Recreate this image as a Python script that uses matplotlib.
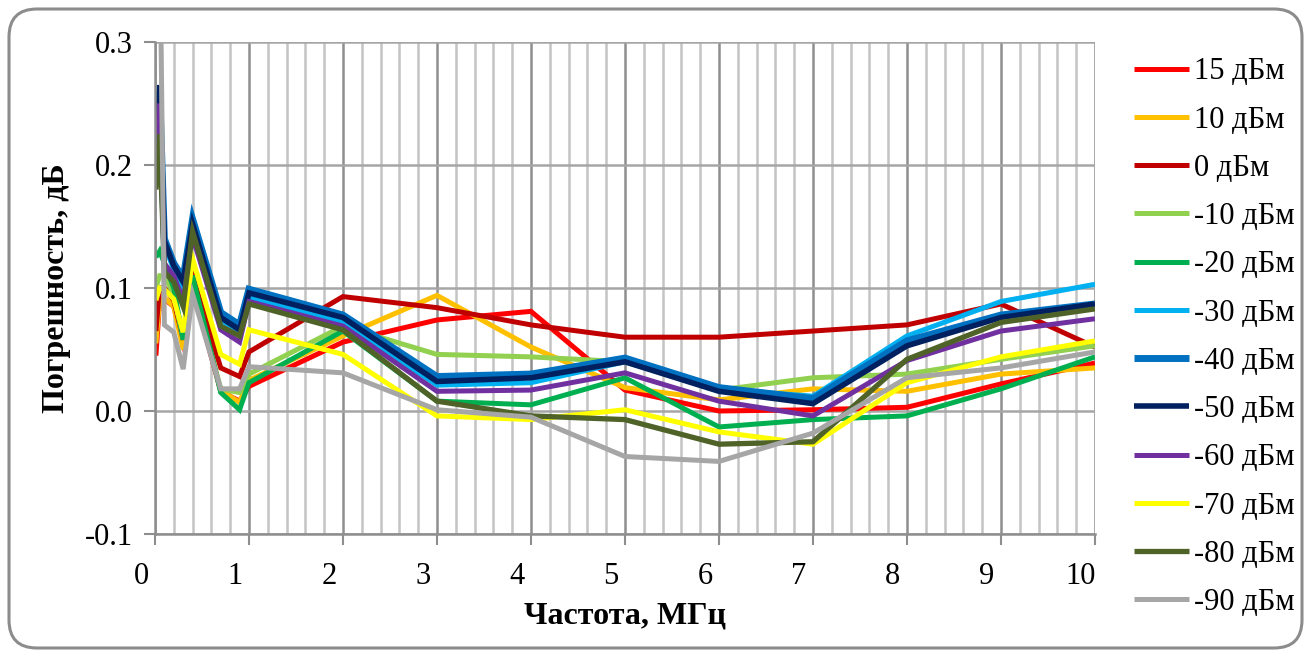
import matplotlib
matplotlib.use('Agg')
import matplotlib.pyplot as plt
from matplotlib.patches import FancyBboxPatch
from matplotlib.transforms import ScaledTranslation, IdentityTransform
from matplotlib.ticker import MultipleLocator

# Частоты, МГц
freq = [0.01, 0.05, 0.1, 0.2, 0.3, 0.4, 0.7, 0.9, 1, 2, 3, 4, 5, 6, 7, 8, 9, 10]

# Погрешность, дБ, для каждого уровня мощности
p15 = [0.045, 0.090, 0.091, 0.085, 0.055, 0.100, 0.016, 0.008, 0.020, 0.056, 0.074, 0.081, 0.017, 0.000, 0.001, 0.003, 0.022, 0.039]
p10 = [0.055, 0.090, 0.092, 0.085, 0.050, 0.105, 0.017, 0.007, 0.025, 0.061, 0.094, 0.052, 0.019, 0.009, 0.018, 0.016, 0.030, 0.035]
p0 = [0.065, 0.100, 0.100, 0.090, 0.058, 0.110, 0.035, 0.028, 0.048, 0.093, 0.084, 0.070, 0.060, 0.060, 0.065, 0.070, 0.087, 0.052]
m10 = [0.100, 0.110, 0.110, 0.095, 0.058, 0.100, 0.018, 0.015, 0.030, 0.069, 0.046, 0.044, 0.040, 0.017, 0.027, 0.030, 0.042, 0.053]
m20 = [0.125, 0.130, 0.120, 0.100, 0.058, 0.110, 0.015, 0.001, 0.023, 0.065, 0.008, 0.005, 0.027, -0.013, -0.007, -0.004, 0.018, 0.044]
m30 = [0.200, 0.250, 0.135, 0.115, 0.100, 0.148, 0.074, 0.064, 0.092, 0.072, 0.021, 0.023, 0.040, 0.018, 0.012, 0.061, 0.089, 0.103]
m40 = [0.200, 0.260, 0.140, 0.120, 0.108, 0.156, 0.080, 0.070, 0.099, 0.078, 0.028, 0.030, 0.043, 0.019, 0.010, 0.057, 0.078, 0.087]
m50 = [0.200, 0.265, 0.138, 0.118, 0.105, 0.152, 0.076, 0.066, 0.096, 0.076, 0.024, 0.027, 0.040, 0.016, 0.006, 0.053, 0.076, 0.087]
m60 = [0.200, 0.250, 0.120, 0.110, 0.090, 0.142, 0.066, 0.056, 0.089, 0.069, 0.016, 0.017, 0.031, 0.008, -0.004, 0.041, 0.065, 0.075]
m70 = [0.090, 0.100, 0.099, 0.091, 0.064, 0.124, 0.046, 0.038, 0.066, 0.046, -0.004, -0.007, 0.001, -0.017, -0.027, 0.023, 0.044, 0.057]
m80 = [0.180, 0.225, 0.113, 0.105, 0.085, 0.146, 0.069, 0.061, 0.087, 0.066, 0.008, -0.004, -0.007, -0.027, -0.025, 0.042, 0.072, 0.083]
m90 = [0.400, 0.400, 0.070, 0.064, 0.034, 0.095, 0.018, 0.018, 0.036, 0.031, 0.001, -0.005, -0.037, -0.041, -0.018, 0.027, 0.035, 0.048]

series = [p15, p10, p0, m10, m20, m30, m40, m50, m60, m70, m80, m90]
labels = ['15 дБм', '10 дБм', '0 дБм', '-10 дБм', '-20 дБм', '-30 дБм',
          '-40 дБм', '-50 дБм', '-60 дБм', '-70 дБм', '-80 дБм', '-90 дБм']
colors = ['#FF0000', '#FFC000', '#C00000', '#92D050', '#00B050', '#00B0F0',
          '#0070C0', '#002060', '#7030A0', '#FFFF00', '#4F6228', '#A6A6A6']
widths = [3.6, 3.6, 3.6, 3.6, 3.6, 3.6, 5.0, 4.0, 3.6, 3.6, 3.8, 3.6]

plt.rcParams['font.family'] = ['Liberation Serif', 'DejaVu Serif']

fig = plt.figure(figsize=(13.11, 6.56), dpi=100)
ax = fig.add_axes([0.1182, 0.1860, 0.7170, 0.7500])

# Рамка диаграммы
frame = FancyBboxPatch((9, 8), 1293, 639, boxstyle='round,pad=0,rounding_size=28',
                       transform=IdentityTransform(), facecolor='white',
                       edgecolor='#8C8C8C', linewidth=2.2, zorder=-10)
fig.patches.append(frame)

for y, c, lab, lw in zip(series, colors, labels, widths):
    ax.plot(freq, y, color=c, linewidth=lw, label=lab, solid_joinstyle='miter',
            solid_capstyle='butt')

ax.set_xlim(0, 10)
ax.set_ylim(-0.1, 0.3)
ax.xaxis.set_major_locator(MultipleLocator(1))
ax.xaxis.set_minor_locator(MultipleLocator(0.2))
ax.yaxis.set_major_locator(MultipleLocator(0.1))
ax.yaxis.set_major_formatter(matplotlib.ticker.FormatStrFormatter('%.1f'))

ax.grid(which='major', axis='x', color='#8E8E8E', linewidth=1.8)
ax.grid(which='minor', axis='x', color='#C4C4C4', linewidth=1.8)
ax.grid(which='major', axis='y', color='#A6A6A6', linewidth=1.8)
ax.set_axisbelow(True)

for s in ['top', 'right']:
    ax.spines[s].set_visible(False)
for s in ['left', 'bottom']:
    ax.spines[s].set_color('#8E8E8E')
    ax.spines[s].set_linewidth(1.8)

ax.tick_params(which='major', direction='out', length=8, width=1.5, color='#8E8E8E',
               labelsize=22, pad=8)
ax.tick_params(axis='x', which='major', pad=12)
ax.tick_params(which='minor', length=0)

offset = ScaledTranslation(-14 / 100, 0, fig.dpi_scale_trans)
for lbl in ax.get_xticklabels():
    lbl.set_transform(lbl.get_transform() + offset)

ax.set_xlabel('Частота, МГц', fontsize=23, fontweight='bold', labelpad=8)
ax.set_ylabel('Погрешность, дБ', fontsize=23, fontweight='bold', labelpad=10)

ax.legend(loc='center left', bbox_to_anchor=(0.865, 0.486), bbox_transform=fig.transFigure,
          frameon=False, fontsize=22, handlelength=1.8, handletextpad=0.15,
          labelspacing=0.63, borderpad=0, borderaxespad=0)

fig.savefig('out.png', dpi=100)
